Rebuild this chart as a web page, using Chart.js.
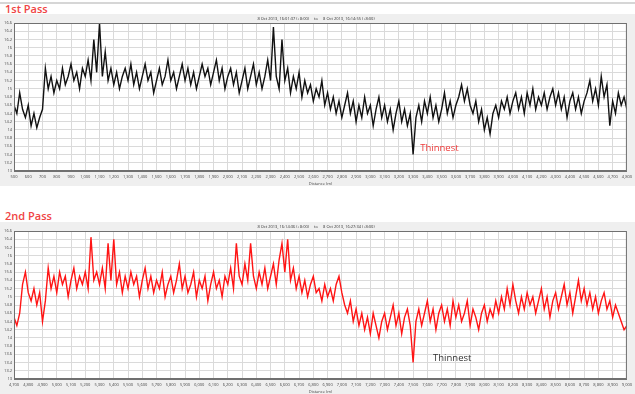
<!DOCTYPE html>
<html>
<head>
<meta charset="utf-8">
<script src="https://cdn.jsdelivr.net/npm/chart.js@4.4.1/dist/chart.umd.min.js"></script>
<style>
  html, body { margin: 0; padding: 0; background: #fff; width: 635px; height: 394px; overflow: hidden; font-family: "Open Sans", sans-serif; }
  .topline { position: absolute; left: 0; top: 2px; width: 635px; height: 2px; background: #d6d6d6; }
  .passTitle { position: absolute; left: 5px; color: #f04444; font-size: 11px; font-weight: 600; line-height: 16px; }
  .panel { position: absolute; left: 0; width: 635px; height: 172px; background: #efefef; }
  canvas { display: block; }
</style>
</head>
<body>
<div class="topline"></div>
<div class="passTitle" style="top:1px">1st Pass</div>
<div class="panel" style="top:14px"><canvas id="pass1" width="635" height="172"></canvas></div>
<div class="passTitle" style="top:208px">2nd Pass</div>
<div class="panel" style="top:222px"><canvas id="pass2" width="635" height="172"></canvas></div>

<script>
// thickness readings, one sample every 20 m
const sampleStep = 20;

const pass1Start = 500;
const pass1Values = [
  14.6, 14.4, 14.9, 14.5, 14.3, 14.6, 14.1, 14.4, 14.05, 14.3,   // 500
  14.5, 15.5, 15.0, 15.3, 14.9, 15.2, 15.0, 15.5, 15.1, 15.3,    // 700
  15.6, 15.2, 15.4, 15.0, 15.5, 15.3, 15.7, 15.2, 16.2, 15.4,    // 900
  16.6, 15.3, 15.9, 15.2, 15.5, 15.1, 15.4, 15.0, 15.3, 15.5,    // 1,100
  15.2, 15.6, 15.1, 15.4, 15.0, 15.3, 15.6, 15.2, 15.4, 14.9,    // 1,300
  15.2, 15.5, 15.1, 15.3, 15.7, 15.2, 15.4, 15.0, 15.3, 15.6,    // 1,500
  15.2, 15.5, 15.1, 15.4, 15.0, 15.3, 15.6, 15.3, 15.5, 15.1,    // 1,700
  15.4, 15.7, 15.2, 15.5, 15.0, 15.3, 15.5, 15.1, 15.4, 14.9,    // 1,900
  15.2, 15.5, 15.0, 15.3, 15.6, 15.1, 15.4, 15.0, 15.3, 15.7,    // 2,100
  15.2, 16.5, 15.3, 15.0, 16.2, 15.2, 15.5, 14.9, 15.3, 15.0,    // 2,300
  15.4, 14.8, 15.2, 14.9, 15.1, 14.7, 15.0, 14.8, 15.2, 14.6,    // 2,500
  14.9, 14.5, 14.8, 14.4, 14.7, 14.3, 14.6, 14.9, 14.4, 14.7,    // 2,700
  14.2, 14.6, 14.3, 14.8, 14.4, 14.6, 14.1, 14.5, 14.8, 14.3,    // 2,900
  14.6, 14.2, 14.5, 14.0, 14.4, 14.7, 14.2, 14.5, 14.1, 14.4,    // 3,100
  13.4, 14.3, 14.6, 14.2, 14.7, 14.4, 14.8, 14.3, 14.6, 14.2,    // 3,300
  14.5, 14.9, 14.4, 14.7, 14.3, 14.6, 14.8, 15.1, 14.7, 15.0,    // 3,500
  14.6, 14.4, 14.7, 14.2, 14.5, 14.0, 14.3, 13.9, 14.4, 14.6,    // 3,700
  14.3, 14.7, 14.5, 14.8, 14.4, 14.7, 14.9, 14.5, 14.8, 14.4,    // 3,900
  14.9, 14.6, 15.0, 14.5, 14.8, 14.6, 14.9, 14.5, 14.8, 15.0,    // 4,100
  14.6, 14.9, 14.5, 14.8, 14.3, 14.7, 14.9, 14.5, 14.8, 14.4,    // 4,300
  14.7, 14.9, 15.2, 14.7, 15.0, 14.6, 15.3, 14.8, 15.1, 14.1,    // 4,500
  14.7, 14.4, 14.9, 14.6, 14.8, 14.5                             // 4,700
];

const pass2Start = 4700;
const pass2Values = [
  14.5, 14.3, 14.6, 15.3, 15.6, 15.1, 14.9, 15.2, 14.8, 15.1,    // 4,700
  14.4, 14.9, 15.7, 15.2, 15.5, 15.1, 15.6, 15.3, 15.5, 15.0,    // 4,900
  15.4, 15.7, 15.2, 15.5, 15.3, 15.6, 15.2, 16.45, 15.4, 15.6,   // 5,100
  15.3, 15.7, 15.2, 16.3, 15.4, 16.4, 15.3, 15.6, 15.1, 15.5,    // 5,300
  15.2, 15.6, 15.3, 15.5, 15.0, 15.4, 15.7, 15.2, 15.5, 15.1,    // 5,500
  15.4, 15.2, 15.6, 15.0, 15.3, 15.5, 15.1, 15.4, 15.8, 15.2,    // 5,700
  15.5, 15.1, 15.3, 15.6, 15.0, 15.4, 15.2, 15.5, 14.9, 15.3,    // 5,900
  15.6, 15.2, 15.4, 15.0, 15.5, 15.3, 15.7, 15.2, 16.3, 15.5,    // 6,100
  15.3, 15.8, 15.4, 16.3, 15.5, 15.2, 15.6, 15.3, 15.7, 15.2,    // 6,300
  15.5, 15.8, 15.3, 15.9, 16.3, 15.6, 16.4, 15.4, 15.7, 15.2,    // 6,500
  15.5, 15.1, 15.4, 15.0, 15.3, 15.5, 15.1, 15.2, 14.9, 15.3,    // 6,700
  15.0, 15.2, 14.9, 15.3, 15.5, 15.1, 14.8, 14.6, 14.9, 14.4,    // 6,900
  14.7, 14.3, 14.6, 14.2, 14.5, 14.1, 14.6, 14.3, 14.0, 14.4,    // 7,100
  14.6, 14.2, 14.5, 14.8, 14.3, 14.6, 14.1, 14.5, 14.7, 14.3,    // 7,300
  13.4, 14.4, 14.7, 14.3, 14.6, 14.9, 14.4, 14.7, 14.2, 14.6,    // 7,500
  14.8, 14.4, 14.7, 14.3, 14.9, 14.5, 14.8, 14.4, 14.6, 14.9,    // 7,700
  14.3, 14.7, 14.5, 14.2, 14.6, 14.8, 14.4, 14.7, 14.5, 14.9,    // 7,900
  14.6, 15.0, 14.7, 15.2, 14.8, 15.3, 14.9, 14.6, 15.0, 14.7,    // 8,100
  15.1, 14.8, 15.0, 14.6, 14.9, 15.2, 14.7, 15.0, 14.5, 14.9,    // 8,300
  15.1, 14.7, 15.0, 15.3, 14.8, 15.1, 14.6, 15.0, 15.4, 14.9,    // 8,500
  15.2, 14.8, 15.1, 14.7, 15.0, 14.6, 14.9, 15.1, 14.7, 14.9,    // 8,700
  14.5, 14.8, 14.6, 14.4, 14.2, 14.3                             // 8,900
];

const pass1Header = '8 Oct 2013, 16:01:37 (+8:00)     to     8 Oct 2013, 16:14:55 (+8:00)';
const pass2Header = '8 Oct 2013, 16:14:36 (+8:00)     to     8 Oct 2013, 16:27:34 (+8:00)';
const noteText = 'Thinnest';

// white plot area, frame, header line and the "Thinnest" note
const passDecor = {
    id: 'passDecor',
    beforeDraw(chart) {
        const { ctx, chartArea: a } = chart;
        ctx.save();
        ctx.fillStyle = '#ffffff';
        ctx.fillRect(a.left, a.top, a.right - a.left, a.bottom - a.top);
        ctx.restore();
    },
    afterDraw(chart, args, opts) {
        const { ctx, chartArea: a, scales } = chart;
        ctx.save();
        ctx.strokeStyle = '#707070';
        ctx.lineWidth = 1;
        ctx.strokeRect(a.left + 0.5, a.top + 0.5, a.right - a.left - 1, a.bottom - a.top - 1);

        ctx.font = '4px "Open Sans"';
        ctx.fillStyle = '#333';
        ctx.textAlign = 'center';
        ctx.textBaseline = 'middle';
        ctx.fillText(opts.header, 316, a.top - 4);

        ctx.font = '9.5px "Open Sans"';
        ctx.fillStyle = opts.noteColor;
        ctx.textAlign = 'left';
        ctx.fillText(noteText, scales.x.getPixelForValue(opts.noteAt[0]), scales.y.getPixelForValue(opts.noteAt[1]));
        ctx.restore();
    }
};

function makePassChart(canvasId, start, values, color, header, noteColor, noteAt) {
    const points = values.map((v, i) => ({ x: start + i * sampleStep, y: v }));
    const end = start + (values.length - 1) * sampleStep;

    return new Chart(document.getElementById(canvasId), {
        type: 'line',
        data: {
            datasets: [{
                data: points,
                borderColor: color,
                borderWidth: 1.4,
                pointRadius: 0,
                tension: 0,
                fill: false
            }]
        },
        options: {
            responsive: false,
            animation: false,
            devicePixelRatio: 1,
            layout: { padding: { top: 9, right: 5, left: 0, bottom: 0 } },
            plugins: {
                legend: { display: false },
                tooltip: { enabled: false },
                passDecor: { header, noteColor, noteAt }
            },
            scales: {
                x: {
                    type: 'linear',
                    min: start,
                    max: end,
                    afterFit: scale => { scale.height = 15; },
                    grid: { color: '#dadada', lineWidth: 1, drawTicks: false },
                    border: { color: '#707070' },
                    ticks: {
                        stepSize: 100,
                        autoSkip: false,
                        maxRotation: 0,
                        padding: 3,
                        color: '#444',
                        font: { size: 4, family: 'Open Sans' },
                        callback: v => v.toLocaleString('en-US')
                    },
                    title: {
                        display: true,
                        text: 'Distance (m)',
                        color: '#444',
                        padding: 0,
                        font: { size: 4, family: 'Open Sans', lineHeight: 1 }
                    }
                },
                y: {
                    min: 13,
                    max: 16.6,
                    afterFit: scale => { scale.width = 14; },
                    grid: { color: '#dadada', lineWidth: 1, drawTicks: false },
                    border: { color: '#707070' },
                    ticks: {
                        stepSize: 0.2,
                        autoSkip: false,
                        padding: 2,
                        color: '#444',
                        font: { size: 4, family: 'Open Sans' },
                        callback: v => String(Number(v.toFixed(1)))
                    }
                }
            }
        },
        plugins: [passDecor]
    });
}

makePassChart('pass1', pass1Start, pass1Values, '#111111', pass1Header, '#ee3b3b', [3350, 13.55]);
makePassChart('pass2', pass2Start, pass2Values, '#ff1414', pass2Header, '#333333', [7640, 13.5]);
</script>
</body>
</html>
